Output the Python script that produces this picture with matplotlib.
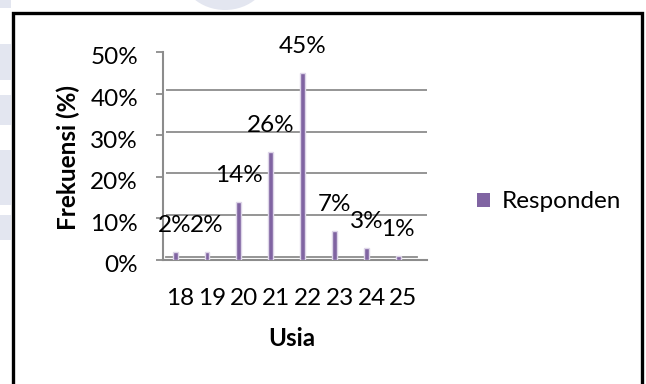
import matplotlib
matplotlib.use("Agg")
import matplotlib.pyplot as plt
from matplotlib.patches import Rectangle, Ellipse, Patch
from matplotlib.transforms import ScaledTranslation

# ---- data ----
ages = ['18', '19', '20', '21', '22', '23', '24', '25']
responden = [2, 2, 14, 26, 45, 7, 3, 1]
yticks = [0, 10, 20, 30, 40, 50]
ytick_labels = ['0%', '10%', '20%', '30%', '40%', '50%']
series_name = 'Responden'
ylabel = 'Frekuensi (%)'
xlabel = 'Usia'

W, H = 646, 384
plt.rcParams['font.family'] = ['Lato', 'DejaVu Sans']
fig = plt.figure(figsize=(W / 100, H / 100), dpi=100)
fig.patch.set_facecolor('white')

def fx(px):
    return px / W

def fy(py):
    return 1 - py / H

FS = 17.5

# faint watermark shapes outside the frame
wm = '#e3e6f0'
for (y0, y1) in [(0, 8), (44, 80), (95, 125), (150, 205), (215, 240)]:
    fig.patches.append(Rectangle((0, fy(y1)), fx(11), (y1 - y0) / H,
                                 transform=fig.transFigure, color=wm, lw=0, zorder=0))
fig.patches.append(Ellipse((fx(225), fy(-30)), fx(90), 80 / H,
                           transform=fig.transFigure, color=wm, lw=0, zorder=0))

# black frame
fig.patches.append(Rectangle((fx(13), fy(400)), fx(629), 387 / H,
                             transform=fig.transFigure, fill=False,
                             edgecolor='black', lw=2.4, zorder=5))

# axes: 0% at y=260, 50% at y=52, x from 163 to 427
left, right, top, bottom = 163, 427, 52, 260
ax = fig.add_axes([fx(left), fy(bottom), (right - left) / W, (bottom - top) / H])
ax.set_facecolor('none')

x = list(range(len(ages)))
ax.set_xlim(-0.38, 7.9)
ax.set_ylim(0, 50)

grey = '#8c8c8c'
for t in yticks[1:]:
    ax.plot([-0.28, 7.9], [t + 0.8, t + 0.8], color=grey, lw=1.3, zorder=1,
            solid_capstyle='butt')
# floor back line
ax.plot([-0.28, 7.6], [0.8, 0.8], color=grey, lw=1.3, zorder=1)

bars = ax.bar(x, responden, width=0.15, color='#8064A2',
              edgecolor='#ddd5e8', linewidth=1.0, zorder=3)

for xi, v in zip(x, responden):
    ax.annotate(f'{v}%', (xi, v), xytext=(0, 19), textcoords='offset points',
                ha='center', va='center', fontsize=FS, color='black', zorder=4)

for s in ['top', 'right']:
    ax.spines[s].set_visible(False)
for s in ['left', 'bottom']:
    ax.spines[s].set_color(grey)
    ax.spines[s].set_linewidth(1.5)

ax.set_yticks(yticks)
ax.set_yticklabels(ytick_labels, fontsize=FS)
ax.tick_params(axis='y', length=5, width=1.3, color=grey, pad=13)
for lab in ax.get_yticklabels():
    lab.set_transform(lab.get_transform() + ScaledTranslation(0, -0.04, fig.dpi_scale_trans))

ax.set_xticks([xi + 0.16 for xi in x])
ax.set_xticklabels(ages, fontsize=FS)
ax.tick_params(axis='x', length=0, pad=20)

ax.set_ylabel(ylabel, fontsize=17.5, fontweight='bold')
ax.yaxis.set_label_coords((68 - left) / (right - left), (bottom - 157) / (bottom - top))
ax.yaxis.label.set_va('center')
ax.set_xlabel(xlabel, fontsize=17.5, fontweight='bold')
ax.xaxis.set_label_coords((292 - left) / (right - left), (bottom - 339) / (bottom - top))
ax.xaxis.label.set_va('center')

handle = Patch(facecolor='#8064A2', edgecolor='none')
fig.legend([handle], [series_name], loc='center left',
           bbox_to_anchor=(fx(477), fy(202)), frameon=False, fontsize=FS,
           handlelength=0.55, handleheight=0.55, handletextpad=0.45,
           borderpad=0, borderaxespad=0)

fig.savefig('out.png', dpi=100)
